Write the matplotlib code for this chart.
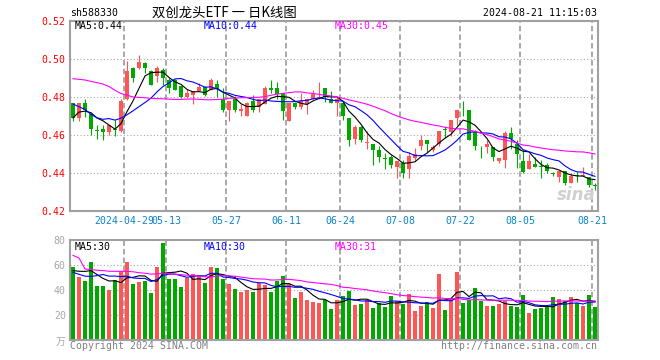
import matplotlib
matplotlib.use('Agg')
import matplotlib.pyplot as plt
import numpy as np
import pandas as pd

plt.rcParams['font.family'] = ['DejaVu Sans Mono']

code = 'sh588330'
title = '双创龙头ETF 一 日K线图'
stamp = '2024-08-21 11:15:03'

# trading days shown (exchange holidays removed)
holidays = ['2024-05-01', '2024-05-02', '2024-05-03', '2024-06-10']
dates = [d.strftime('%Y-%m-%d') for d in pd.bdate_range('2024-04-16', '2024-08-21')
         if d.strftime('%Y-%m-%d') not in holidays]
label_dates = ['2024-04-29', '2024-05-13', '2024-05-27', '2024-06-11', '2024-06-24',
               '2024-07-08', '2024-07-22', '2024-08-05', '2024-08-21']

open_ = [0.4764, 0.4685, 0.4764, 0.4709, 0.4623, 0.4632, 0.4612, 0.4632, 0.4621, 0.4785,
         0.4949, 0.4949, 0.4975, 0.4937, 0.4908, 0.4938, 0.4885, 0.4885, 0.4856, 0.4796,
         0.4808, 0.4831, 0.4852, 0.4834, 0.4866, 0.4785, 0.4732, 0.4785, 0.4722, 0.4700,
         0.4776, 0.4746, 0.4759, 0.4843, 0.4843, 0.4817, 0.4674, 0.4767, 0.4743, 0.4759,
         0.4785, 0.4827, 0.4843, 0.4785, 0.4767, 0.4767, 0.4685, 0.4579, 0.4641, 0.4556,
         0.4552, 0.4521, 0.4477, 0.4480, 0.4429, 0.4450, 0.4420, 0.4477, 0.4542, 0.4574,
         0.4521, 0.4552, 0.4632, 0.4612, 0.4685, 0.4730, 0.4732, 0.4614, 0.4510, 0.4533,
         0.4533, 0.4463, 0.4468, 0.4609, 0.4552, 0.4459, 0.4420, 0.4447, 0.4433, 0.4441,
         0.4397, 0.4376, 0.4411, 0.4348, 0.4389, 0.4380, 0.4376, 0.4334]
high = [0.4767, 0.4767, 0.4785, 0.4715, 0.4653, 0.4653, 0.4653, 0.4676, 0.4785, 0.4986,
        0.4955, 0.5018, 0.4982, 0.4940, 0.4961, 0.4949, 0.4898, 0.4894, 0.4856, 0.4840,
        0.4831, 0.4873, 0.4855, 0.4896, 0.4885, 0.4843, 0.4776, 0.4803, 0.4759, 0.4773,
        0.4806, 0.4785, 0.4855, 0.4885, 0.4877, 0.4817, 0.4767, 0.4772, 0.4818, 0.4785,
        0.4833, 0.4875, 0.4843, 0.4827, 0.4797, 0.4776, 0.4685, 0.4653, 0.4645, 0.4621,
        0.4552, 0.4542, 0.4503, 0.4493, 0.4459, 0.4468, 0.4507, 0.4530, 0.4600, 0.4574,
        0.4545, 0.4621, 0.4644, 0.4676, 0.4732, 0.4776, 0.4732, 0.4626, 0.4538, 0.4574,
        0.4533, 0.4477, 0.4621, 0.4641, 0.4574, 0.4521, 0.4500, 0.4480, 0.4468, 0.4450,
        0.4406, 0.4410, 0.4411, 0.4397, 0.4406, 0.4429, 0.4376, 0.4345]
low = [0.4670, 0.4670, 0.4692, 0.4597, 0.4577, 0.4570, 0.4600, 0.4595, 0.4616, 0.4780,
       0.4878, 0.4945, 0.4922, 0.4863, 0.4878, 0.4861, 0.4817, 0.4834, 0.4790, 0.4794,
       0.4759, 0.4831, 0.4804, 0.4834, 0.4799, 0.4718, 0.4670, 0.4718, 0.4697, 0.4697,
       0.4720, 0.4718, 0.4759, 0.4820, 0.4785, 0.4679, 0.4670, 0.4737, 0.4737, 0.4709,
       0.4785, 0.4785, 0.4773, 0.4764, 0.4697, 0.4679, 0.4538, 0.4552, 0.4559, 0.4524,
       0.4438, 0.4454, 0.4419, 0.4424, 0.4374, 0.4374, 0.4374, 0.4463, 0.4521, 0.4507,
       0.4507, 0.4538, 0.4582, 0.4595, 0.4648, 0.4697, 0.4570, 0.4521, 0.4477, 0.4503,
       0.4463, 0.4450, 0.4424, 0.4524, 0.4427, 0.4397, 0.4419, 0.4429, 0.4374, 0.4397,
       0.4380, 0.4353, 0.4336, 0.4348, 0.4353, 0.4380, 0.4323, 0.4309]
close = [0.4688, 0.4764, 0.4732, 0.4632, 0.4621, 0.4614, 0.4653, 0.4625, 0.4776, 0.4937,
         0.4896, 0.4984, 0.4949, 0.4863, 0.4949, 0.4898, 0.4843, 0.4834, 0.4797, 0.4817,
         0.4831, 0.4852, 0.4808, 0.4885, 0.4838, 0.4732, 0.4776, 0.4732, 0.4734, 0.4764,
         0.4732, 0.4785, 0.4843, 0.4833, 0.4815, 0.4722, 0.4767, 0.4743, 0.4776, 0.4785,
         0.4815, 0.4831, 0.4797, 0.4764, 0.4785, 0.4697, 0.4574, 0.4641, 0.4574, 0.4563,
         0.4521, 0.4480, 0.4471, 0.4441, 0.4459, 0.4397, 0.4489, 0.4500, 0.4574, 0.4552,
         0.4533, 0.4621, 0.4626, 0.4676, 0.4732, 0.4727, 0.4574, 0.4538, 0.4507, 0.4552,
         0.4480, 0.4477, 0.4609, 0.4577, 0.4500, 0.4401, 0.4459, 0.4429, 0.4429, 0.4411,
         0.4392, 0.4410, 0.4348, 0.4380, 0.4383, 0.4389, 0.4336, 0.4329]
volume = [58.7, 50.4, 47.2, 62.4, 43.2, 43.2, 40.0, 48.0, 55.2, 62.4,
          44.8, 46.4, 47.2, 37.6, 58.4, 77.6, 48.8, 48.8, 42.4, 49.6,
          52.8, 51.2, 45.6, 58.4, 57.6, 48.8, 44.8, 40.8, 38.4, 40.0,
          38.4, 45.6, 44.0, 38.4, 47.2, 51.2, 44.8, 33.6, 38.4, 32.0,
          30.4, 29.6, 32.0, 24.8, 32.0, 35.2, 39.2, 28.0, 28.8, 32.0,
          25.6, 29.6, 26.4, 35.2, 31.2, 28.8, 36.8, 23.2, 27.2, 30.4,
          25.6, 52.8, 24.0, 33.6, 54.4, 29.6, 32.0, 41.6, 31.2, 27.2,
          27.2, 28.8, 31.2, 27.2, 26.4, 36.0, 21.6, 24.8, 25.6, 26.4,
          34.4, 32.8, 31.2, 34.4, 29.6, 27.2, 36.0, 26.4]

# 29 sessions before the window, only used to seed the moving averages
prior_close = [0.4860, 0.4840, 0.4848, 0.4820, 0.4835, 0.5050, 0.5220, 0.5284, 0.5200, 0.5173,
               0.5050, 0.5006, 0.4980, 0.4970, 0.4930, 0.4900, 0.4870, 0.4795, 0.4780, 0.4805,
               0.4904, 0.4872, 0.4892, 0.4801, 0.4694, 0.4614, 0.4707, 0.4672, 0.4761]
prior_volume = [113, 311, 77.4, 58, 52, 56, 50, 55.6, 62, 55,
                70, 58, 60, 52, 64, 57, 61, 55, 63, 60,
                66, 62, 64, 37, 34.5, 52.9, 47.7, 59.4, 58.8]

RED = '#ff5555'
GREEN = '#00a800'
GRID = '#a8a8a8'
MA_COLORS = {5: 'black', 10: '#0000ff', 30: '#ff00ff'}

o = np.array(open_); h = np.array(high); l = np.array(low); c = np.array(close)
v = np.array(volume)
n = len(c)
x = np.arange(n)
colors = np.where(c >= o, RED, GREEN)

full_c = pd.Series(np.r_[prior_close, close])
full_v = pd.Series(np.r_[prior_volume, volume])
k = len(prior_close)
ma_c = {m: full_c.rolling(m).mean().values[k:] for m in (5, 10, 30)}
ma_v = {m: full_v.rolling(m).mean().values[k:] for m in (5, 10, 30)}

W, H = 660, 360
fig = plt.figure(figsize=(W / 100, H / 100), dpi=100)

def box(l_, t, r, b):
    return [l_ / W, 1 - b / H, (r - l_) / W, (b - t) / H]

ax = fig.add_axes(box(70, 20.5, 598, 210.7))
axv = fig.add_axes(box(70, 240, 598, 340))

tick_pos = [dates.index(d) - 0.45 for d in label_dates]
tick_txt = [label_dates[0]] + [d[5:] for d in label_dates[1:]]

for a in (ax, axv):
    a.set_xlim(-0.5, n - 0.5)
    for s in a.spines.values():
        s.set_color('#a0a0a0')
        s.set_linewidth(1.5)
    for p in tick_pos:
        a.axvline(p, color=GRID, lw=1.4, ls=(0, (2.8, 1.6)), zorder=0)
    a.tick_params(length=0)

# price panel
ax.set_ylim(0.42, 0.52)
for yv in (0.44, 0.46, 0.48, 0.50):
    ax.axhline(yv, color=GRID, lw=0.8, ls=(0, (1, 2)), zorder=0)
ax.vlines(x, l, h, colors=colors, lw=0.8, zorder=2)
ax.bar(x, np.maximum(np.abs(c - o), 0.0003), bottom=np.minimum(o, c), width=0.82,
       color=colors, linewidth=0, zorder=3)
for m in (5, 10, 30):
    ax.plot(x, ma_c[m], color=MA_COLORS[m], lw=0.8, zorder=4)
ax.set_yticks([0.42, 0.44, 0.46, 0.48, 0.50, 0.52])
ax.set_yticklabels([f'{t:.2f}' for t in ax.get_yticks()], color='red', fontsize=7.1)
ax.set_xticks(tick_pos)
ax.set_xticklabels(tick_txt, color='#0a84c8', fontsize=7.1)
ax.tick_params(axis='y', pad=3)
ax.tick_params(axis='x', pad=3.5)
ax.text(0.995, 0.085, 'sina', transform=ax.transAxes, ha='right', va='center',
        fontsize=12, fontweight='bold', style='italic', color='#d0d0d0',
        family='DejaVu Sans', zorder=1)

# volume panel
axv.set_ylim(0, 80)
for yv in (20, 40, 60):
    axv.axhline(yv, color=GRID, lw=0.8, ls=(0, (1, 2)), zorder=0)
axv.bar(x, v, width=0.82, color=colors, linewidth=0, zorder=2)
for m in (5, 10, 30):
    axv.plot(x, ma_v[m], color=MA_COLORS[m], lw=0.8, zorder=3)
axv.set_yticks([20, 40, 60, 80])
axv.set_yticklabels(['20', '40', '60', '80'], color='#a8a8a8', fontsize=7.1)
axv.tick_params(axis='y', pad=3)
axv.set_xticks([])

def ftext(px, py, s, **kw):
    kw.setdefault('fontsize', 7.1)
    kw.setdefault('va', 'center')
    fig.text(px / W, 1 - py / H, s, **kw)

ftext(70, 13.5, code)
ftext(224, 12.5, title, ha='center', fontsize=9.6,
      family=['Noto Sans CJK SC', 'DejaVu Sans'])
ftext(597, 13.5, stamp, ha='right')
ftext(74.5, 26, f'MA5:{ma_c[5][-1]:.2f}', color=MA_COLORS[5])
ftext(204, 26, f'MA10:{ma_c[10][-1]:.2f}', color=MA_COLORS[10])
ftext(335, 26, f'MA30:{ma_c[30][-1]:.2f}', color=MA_COLORS[30])
ftext(74.5, 246.5, f'MA5:{int(ma_v[5][-1])}', color=MA_COLORS[5])
ftext(204, 246.5, f'MA10:{int(ma_v[10][-1])}', color=MA_COLORS[10])
ftext(335, 246.5, f'MA30:{int(ma_v[30][-1])}', color=MA_COLORS[30])
ftext(65, 342, '万', ha='right', color='#a8a8a8', fontsize=7,
      family=['Noto Sans CJK SC', 'DejaVu Sans'])
ftext(69.5, 346, 'Copyright 2024 SINA.COM', color='#808080')
ftext(597, 346, 'http://finance.sina.com.cn', ha='right', color='#808080')

fig.savefig('out.png', dpi=100)
